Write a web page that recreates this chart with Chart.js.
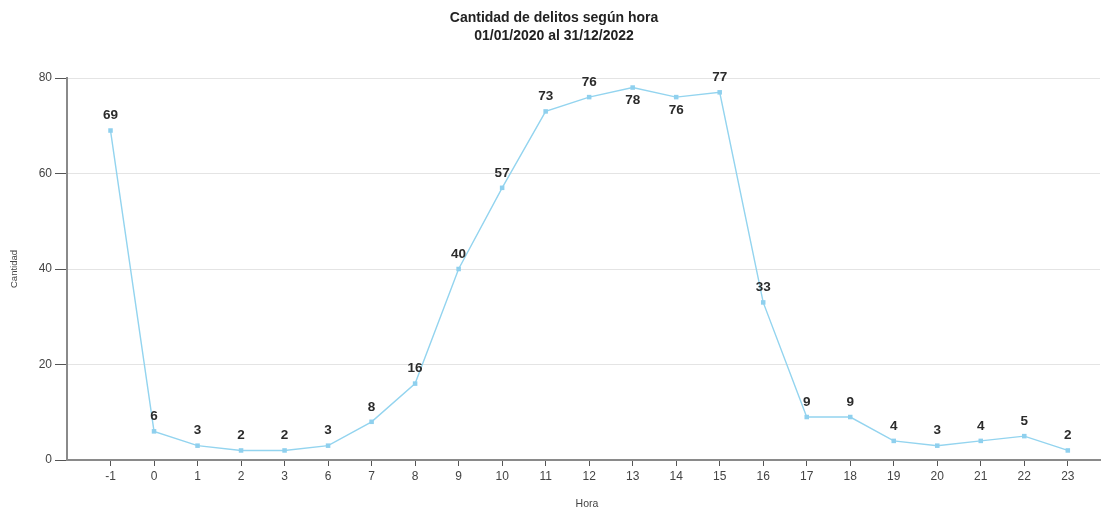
<!DOCTYPE html>
<html>
<head>
<meta charset="utf-8">
<script src="https://cdn.jsdelivr.net/npm/chart.js@4/dist/chart.umd.min.js"></script>
<style>
  html, body { margin: 0; padding: 0; background: #fff; }
  #wrap { width: 1106px; height: 512px; position: relative; }
</style>
</head>
<body>
<div id="wrap"><canvas id="c" width="1106" height="512"></canvas></div>
<script>
// Hour buckets as reported (4 and 5 have no records)
const hours = ['-1', '0', '1', '2', '3', '6', '7', '8', '9', '10', '11', '12', '13', '14', '15', '16', '17', '18', '19', '20', '21', '22', '23'];
const counts = [69, 6, 3, 2, 2, 3, 8, 16, 40, 57, 73, 76, 78, 76, 77, 33, 9, 9, 4, 3, 4, 5, 2];
// Labels drawn beneath their point instead of above
const labelsBelow = ['13', '14'];
const yTicks = [0, 20, 40, 60, 80];

const titleLines = ['Cantidad de delitos según hora', '01/01/2020 al 31/12/2022'];
const xTitle = 'Hora';
const yTitle = 'Cantidad';

const FONT = '"Liberation Sans", Arial, sans-serif';

const decorations = {
  id: 'decorations',
  afterDatasetsDraw(chart) {
    const ctx = chart.ctx;
    const meta = chart.getDatasetMeta(0);
    ctx.save();
    ctx.fillStyle = '#2b2b2b';
    ctx.font = 'bold 13.5px ' + FONT;
    ctx.textAlign = 'center';
    ctx.textBaseline = 'middle';
    meta.data.forEach((pt, i) => {
      const below = labelsBelow.includes(hours[i]);
      ctx.fillText(String(counts[i]), pt.x, pt.y + (below ? 13 : -15));
    });
    ctx.restore();
  },
  afterDraw(chart) {
    const ctx = chart.ctx;
    ctx.save();
    ctx.fillStyle = '#222';
    ctx.font = 'bold 14px ' + FONT;
    ctx.textAlign = 'center';
    ctx.textBaseline = 'middle';
    ctx.fillText(titleLines[0], 554, 18);
    ctx.fillText(titleLines[1], 554, 36);

    ctx.fillStyle = '#444';
    ctx.font = '10.5px ' + FONT;
    ctx.fillText(xTitle, 587, 504);

    ctx.translate(14, 269);
    ctx.rotate(-Math.PI / 2);
    ctx.font = '9.5px ' + FONT;
    ctx.fillText(yTitle, 0, 0);
    ctx.restore();
  }
};

new Chart(document.getElementById('c'), {
  type: 'line',
  data: {
    datasets: [{
      data: counts.map((v, i) => ({ x: i, y: v })),
      borderColor: '#93d4ef',
      backgroundColor: '#8fd0ee',
      borderWidth: 1.4,
      pointStyle: 'rect',
      pointRadius: 3.2,
      pointBorderWidth: 0,
      tension: 0,
      fill: false
    }]
  },
  options: {
    responsive: false,
    animation: false,
    layout: { padding: { top: 78, right: 6, left: 0, bottom: 0 } },
    plugins: { legend: { display: false }, tooltip: { enabled: false }, title: { display: false } },
    scales: {
      x: {
        type: 'linear',
        min: -1,
        max: 22.74,
        afterBuildTicks(axis) {
          axis.ticks = hours.map((_, i) => ({ value: i }));
        },
        afterFit(axis) { axis.height = 52; },
        ticks: {
          autoSkip: false,
          maxRotation: 0,
          padding: 3,
          color: '#444',
          font: { family: FONT, size: 12 },
          callback: (v) => hours[v]
        },
        grid: {
          drawOnChartArea: false,
          drawTicks: true,
          tickLength: 6,
          tickColor: '#555',
          tickWidth: 1
        },
        border: { color: '#8a8a8a', width: 2 }
      },
      y: {
        min: 0,
        max: 80,
        afterBuildTicks(axis) {
          axis.ticks = yTicks.map(v => ({ value: v }));
        },
        afterFit(axis) { axis.width = 67; },
        ticks: {
          padding: 3,
          color: '#444',
          font: { family: FONT, size: 12 }
        },
        grid: {
          color: '#e4e4e4',
          lineWidth: 1,
          drawTicks: true,
          tickLength: 12,
          tickColor: '#555',
          tickWidth: 1
        },
        border: { color: '#8a8a8a', width: 2 }
      }
    }
  },
  plugins: [decorations]
});
</script>
</body>
</html>
